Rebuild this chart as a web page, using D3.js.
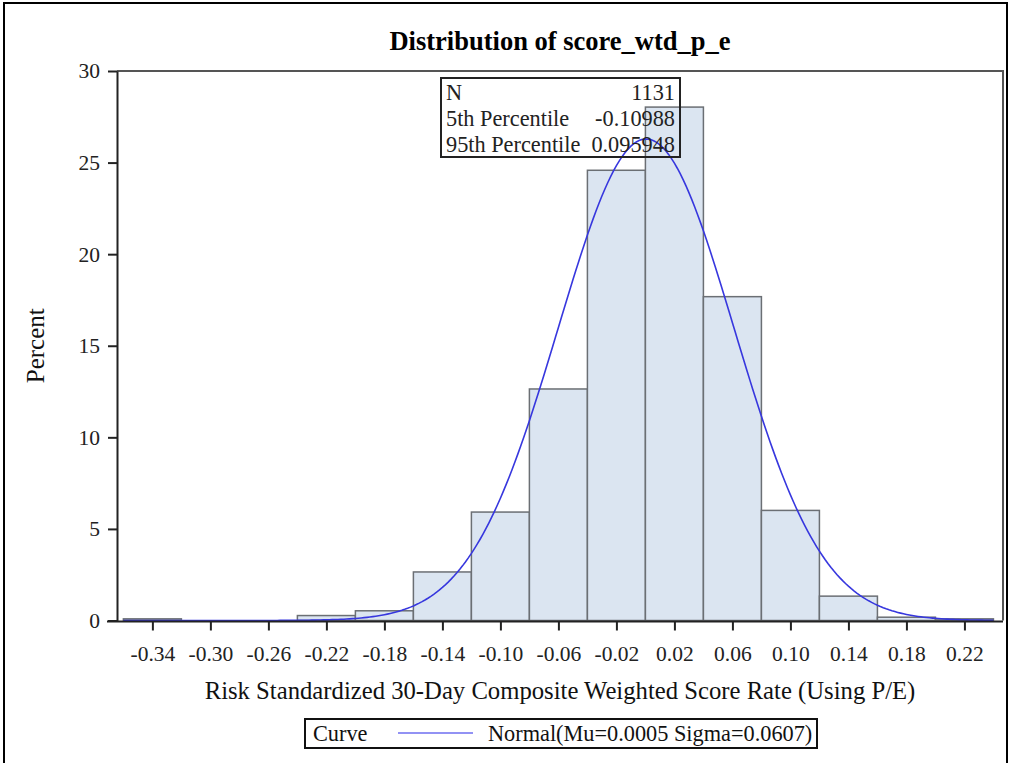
<!DOCTYPE html>
<html>
<head>
<meta charset="utf-8">
<script src="https://cdn.jsdelivr.net/npm/d3@7.9.0/dist/d3.min.js"></script>
<style>
  body { margin: 0; background: #fff; }
  svg { display: block; font-family: "Liberation Serif", "Times New Roman", serif; }
</style>
</head>
<body>
<svg id="chart" width="1011" height="763"></svg>
<script>
// histogram bins (lower edge) and percent of observations
const binStarts = [-0.36, -0.32, -0.28, -0.24, -0.20, -0.16, -0.12, -0.08, -0.04, 0.00, 0.04, 0.08, 0.12, 0.16, 0.20];
const percents = [0.09, 0, 0, 0.27, 0.53, 2.65, 5.92, 12.64, 24.58, 28.03, 17.68, 6.01, 1.33, 0.18, 0.09];
const binWidth = 0.04;

// tick labels on x sit at bin midpoints
const xTicks = [-0.34, -0.30, -0.26, -0.22, -0.18, -0.14, -0.10, -0.06, -0.02, 0.02, 0.06, 0.10, 0.14, 0.18, 0.22];
const yTicks = [0, 5, 10, 15, 20, 25, 30];

// fitted normal curve
const mu = 0.0005;
const sigma = 0.0607;

const insetRows = [
  ["N", "1131"],
  ["5th Percentile", "-0.10988"],
  ["95th Percentile", "0.095948"]
];

const svg = d3.select("#chart");
const margin = { left: 117, right: 1003, top: 71, bottom: 620.5 };

const x = d3.scaleLinear().domain([-0.3644, 0.2466]).range([margin.left, margin.right]);
const y = d3.scaleLinear().domain([0, 30]).range([margin.bottom, margin.top]);

// outer page border
svg.append("rect")
  .attr("x", 4).attr("y", 3).attr("width", 1003).attr("height", 800)
  .attr("fill", "none").attr("stroke", "#000").attr("stroke-width", 2);

// title
svg.append("text")
  .attr("x", (margin.left + margin.right) / 2).attr("y", 50)
  .attr("text-anchor", "middle")
  .attr("font-size", 26.5).attr("font-weight", "bold")
  .text("Distribution of score_wtd_p_e");

// bars
svg.append("g").selectAll("rect")
  .data(binStarts)
  .join("rect")
  .filter((d, i) => percents[i] > 0)
  .attr("x", d => x(d))
  .attr("width", d => x(d + binWidth) - x(d))
  .attr("y", d => y(percents[binStarts.indexOf(d)]))
  .attr("height", d => y(0) - y(percents[binStarts.indexOf(d)]))
  .attr("fill", "#dbe5f1")
  .attr("stroke", "#6b6f74")
  .attr("stroke-width", 1.5);

// normal curve, percent scale = 100 * binWidth * pdf
const pdf = v => Math.exp(-0.5 * ((v - mu) / sigma) ** 2) / (sigma * Math.sqrt(2 * Math.PI));
const curveX = d3.range(0, 301).map(i => -0.36 + i * 0.002);
svg.append("path")
  .datum(curveX)
  .attr("fill", "none")
  .attr("stroke", "#3737de")
  .attr("stroke-width", 1.6)
  .attr("d", d3.line().x(d => x(d)).y(d => y(100 * binWidth * pdf(d))));

// frame (top and right)
svg.append("path")
  .attr("d", `M${margin.left},${margin.top}H${margin.right}V${margin.bottom}`)
  .attr("fill", "none").attr("stroke", "#555").attr("stroke-width", 2);

// axes
const xAxis = svg.append("g")
  .attr("transform", `translate(0,${margin.bottom + 1})`)
  .call(d3.axisBottom(x).tickValues(xTicks).tickSize(9).tickPadding(15)
    .tickFormat(d => d3.format(".2f")(d).replace("−", "-")).tickSizeOuter(0));
const yAxis = svg.append("g")
  .attr("transform", `translate(${margin.left},0)`)
  .call(d3.axisLeft(y).tickValues(yTicks).tickSize(9).tickPadding(8).tickSizeOuter(0));

[xAxis, yAxis].forEach(g => {
  g.select(".domain").attr("stroke", "#222").attr("stroke-width", 2);
  g.selectAll(".tick line").attr("stroke", "#222").attr("stroke-width", 2);
  g.selectAll(".tick text")
    .attr("fill", "#222")
    .attr("font-size", 21.5)
    .attr("font-family", "Liberation Serif, serif");
});
xAxis.select(".domain").attr("d", `M${margin.left - 10},0H${margin.right}`);

// axis labels
svg.append("text")
  .attr("transform", `translate(44,${(margin.top + margin.bottom) / 2}) rotate(-90)`)
  .attr("text-anchor", "middle").attr("font-size", 25).attr("fill", "#111")
  .text("Percent");
svg.append("text")
  .attr("x", (margin.left + margin.right) / 2).attr("y", 699)
  .attr("text-anchor", "middle").attr("font-size", 24.7).attr("fill", "#111")
  .text("Risk Standardized 30-Day Composite Weighted Score Rate (Using P/E)");

// inset statistics table
const inset = svg.append("g");
inset.append("rect")
  .attr("x", 441).attr("y", 78).attr("width", 239).attr("height", 79)
  .attr("fill", "none").attr("stroke", "#222").attr("stroke-width", 2);
insetRows.forEach((r, i) => {
  inset.append("text").attr("x", 446).attr("y", 100 + i * 26)
    .attr("font-size", 22.3).attr("fill", "#222").text(r[0]);
  inset.append("text").attr("x", 675).attr("y", 100 + i * 26)
    .attr("text-anchor", "end").attr("font-size", 22.3).attr("fill", "#222").text(r[1]);
});

// legend
const legend = svg.append("g");
legend.append("rect")
  .attr("x", 305).attr("y", 719).attr("width", 512).attr("height", 29)
  .attr("fill", "#fff").attr("stroke", "#111").attr("stroke-width", 2);
legend.append("text").attr("x", 313).attr("y", 741)
  .attr("font-size", 22.3).attr("fill", "#111").text("Curve");
legend.append("line")
  .attr("x1", 398).attr("x2", 473).attr("y1", 733).attr("y2", 733)
  .attr("stroke", "#6e6ef0").attr("stroke-width", 1.4);
legend.append("text").attr("x", 488).attr("y", 741)
  .attr("font-size", 22.3).attr("fill", "#111").text(`Normal(Mu=${mu} Sigma=${sigma})`);
</script>
</body>
</html>
